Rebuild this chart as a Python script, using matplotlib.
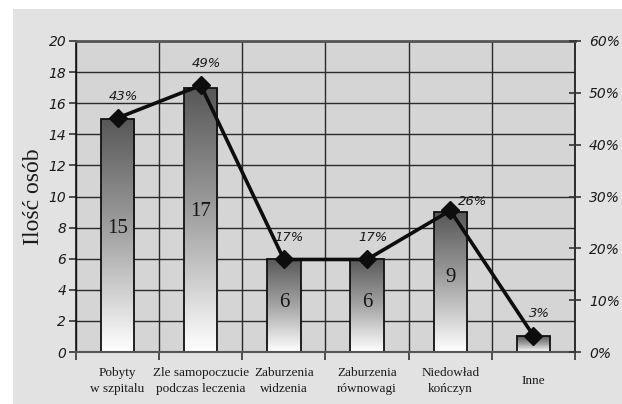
import numpy as np
import matplotlib
matplotlib.use("Agg")
import matplotlib.pyplot as plt
from matplotlib.patches import Rectangle
from matplotlib.colors import LinearSegmentedColormap
from matplotlib.ticker import FuncFormatter, MultipleLocator, FixedLocator

categories = ["Pobyty\nw szpitalu", "Zle samopoczucie\npodczas leczenia", "Zaburzenia\nwidzenia",
              "Zaburzenia\nrównowagi", "Niedowład\nkończyn", "Inne"]
counts = [15, 17, 6, 6, 9, 1]
shares = [43, 49, 17, 17, 26, 3]
count_labels = ["15", "17", "6", "6", "9", ""]
respondents = 35

ymax = 20
W, H = 622, 404
fig = plt.figure(figsize=(W / 100, H / 100), dpi=100)
fig.patch.set_facecolor("white")
fig.add_artist(Rectangle((13 / W, 0), 1 - 13 / W, 1 - 9 / H, transform=fig.transFigure,
                         facecolor="#e2e2e2", edgecolor="none", zorder=0))

ax = fig.add_axes([76 / W, 1 - 352 / H, (575 - 76) / W, (352 - 41) / H])
ax.set_facecolor("#d5d5d5")
n = len(categories)
x = np.arange(n)
ax.set_xlim(-0.5, n - 0.5)
ax.set_ylim(0, ymax)

# grid
ax.yaxis.set_major_locator(MultipleLocator(2))
ax.xaxis.set_major_locator(FixedLocator(x))
ax.xaxis.set_minor_locator(FixedLocator(np.arange(n + 1) - 0.5))
ax.grid(True, axis="y", which="major", color="#2a2a2a", lw=1.0, zorder=1)
ax.grid(True, axis="x", which="minor", color="#2a2a2a", lw=1.0, zorder=1)
ax.set_axisbelow(True)

# gradient bars
cmap = LinearSegmentedColormap.from_list("barfill", ["#ffffff", "#a4a4a4", "#575757"])
grad = np.linspace(0, 1, 256).reshape(-1, 1)
bw = 0.40
bars = ax.bar(x, counts, width=bw, facecolor="none", edgecolor="#111111", lw=1.3, zorder=3)
for b in bars:
    x0, w, h = b.get_x(), b.get_width(), b.get_height()
    im = ax.imshow(grad, cmap=cmap, extent=[x0, x0 + w, 0, h], origin="lower",
                   aspect="auto", zorder=2.5)
    im.set_clip_path(b)
ax.set_xlim(-0.5, n - 0.5)
ax.set_ylim(0, ymax)

for xi, v, lab in zip(x, counts, count_labels):
    if lab:
        ax.text(xi, v * 0.53, lab, ha="center", va="center",
                fontsize=15, family="Liberation Serif", color="#161616", zorder=4)

# axes styling
for s in ["left", "bottom", "right", "top"]:
    ax.spines[s].set_zorder(5)
ax.spines["left"].set_color("#111111")
ax.spines["left"].set_linewidth(1.2)
ax.spines["bottom"].set_color("#555555")
ax.spines["bottom"].set_linewidth(1.5)
ax.spines["top"].set_color("#555555")
ax.spines["top"].set_linewidth(2)
ax.spines["right"].set_color("#111111")
ax.spines["right"].set_linewidth(1.2)

ax.tick_params(axis="x", which="major", length=0, pad=21)
ax.tick_params(axis="x", which="minor", direction="out", length=6, width=1.2, color="#333333")
ax.set_xticklabels(categories, family="Liberation Serif", fontsize=9.5, color="#1a1a1a",
                   linespacing=1.45)
for t in ax.get_xticklabels():
    t.set_verticalalignment("center")
ax.tick_params(axis="y", direction="out", length=5, width=1.2, color="#333333", pad=2)
ax.set_yticklabels([str(int(t)) for t in ax.get_yticks()], fontsize=10, style="italic",
                   family="DejaVu Sans", color="#1a1a1a")
ax.set_ylabel("Ilość osób", family="Liberation Serif", fontsize=17, color="#1a1a1a", labelpad=3)

# right percentage axis
axr = ax.twinx()
axr.set_ylim(0, 60)
axr.yaxis.set_major_locator(MultipleLocator(10))
axr.yaxis.set_major_formatter(FuncFormatter(lambda v, p: f"{int(v)}%"))
axr.tick_params(axis="y", direction="inout", length=8, width=1.2, color="#333333", pad=6,
                labelsize=10)
for t in axr.get_yticklabels():
    t.set_fontstyle("italic")
    t.set_color("#1a1a1a")
for s in axr.spines.values():
    s.set_visible(False)

# share of respondents line, scaled so that 100% of respondents spans the count axis
axl = ax.twinx()
axl.set_ylim(0, 100 * ymax / respondents)
axl.axis("off")
axl.plot(x, shares, color="#0d0d0d", lw=2.6, marker="D", markersize=9, zorder=6)
for i, (xi, s) in enumerate(zip(x, shares)):
    off = (16, 2) if i == 4 else (4, 11)
    axl.annotate(f"{s}%", (xi, s), xytext=off, textcoords="offset points",
                 ha="center", va="bottom", fontsize=9.5, style="italic", color="#1a1a1a")

fig.savefig("out.png", dpi=100, facecolor=fig.get_facecolor())
